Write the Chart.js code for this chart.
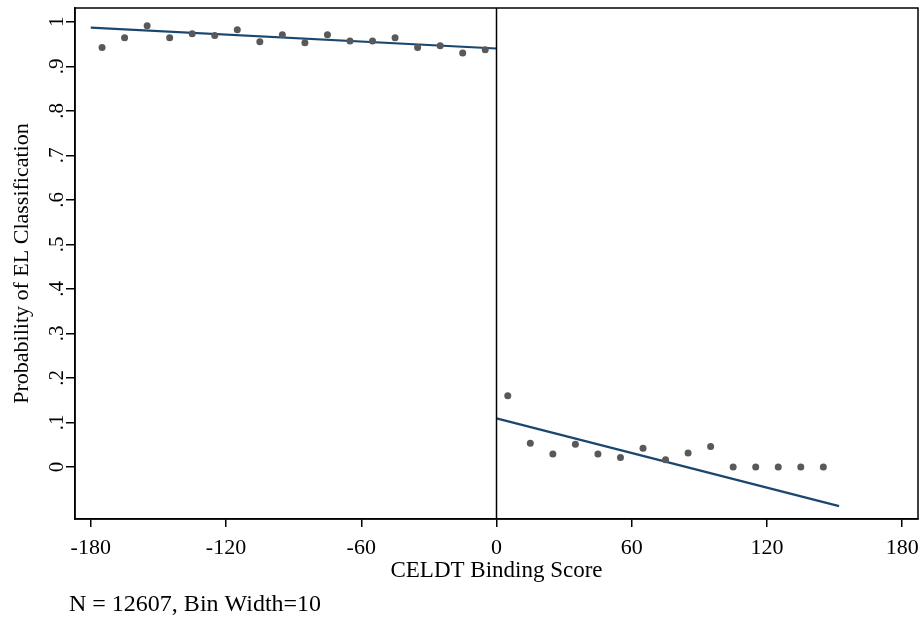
<html>
<head>
<meta charset="utf-8">
<script src="https://cdn.jsdelivr.net/npm/chart.js@4.4.0/dist/chart.umd.min.js"></script>
<style>
  body { margin: 0; background: #fff; }
  #wrap { width: 924px; height: 618px; }
</style>
</head>
<body>
<div id="wrap"><canvas id="rd-chart"></canvas></div>
<script>
// binned means (bin width 10)
var binCenters = [-175, -165, -155, -145, -135, -125, -115, -105, -95, -85, -75, -65, -55, -45, -35, -25, -15, -5,
                  5, 15, 25, 35, 45, 55, 65, 75, 85, 95, 105, 115, 125, 135, 145];
var binMeans = [0.942, 0.964, 0.991, 0.964, 0.973, 0.969, 0.982, 0.955, 0.971, 0.953, 0.971, 0.957, 0.957, 0.964, 0.942, 0.946, 0.930, 0.937,
                0.160, 0.053, 0.029, 0.051, 0.029, 0.021, 0.042, 0.016, 0.031, 0.046, 0, 0, 0, 0, 0];

// linear fits either side of the cutoff
var fitLeftX = [-180, 0];
var fitLeftY = [0.987, 0.940];
var fitRightX = [0, 152];
var fitRightY = [0.109, -0.088];

var xTicks = [-180, -120, -60, 0, 60, 120, 180];
var yTicks = [0, 0.1, 0.2, 0.3, 0.4, 0.5, 0.6, 0.7, 0.8, 0.9, 1];
var yLabels = ['0', '.1', '.2', '.3', '.4', '.5', '.6', '.7', '.8', '.9', '1'];

var xMin = -187, xMax = 187, yMin = -0.117, yMax = 1.031;
var serif = "'Liberation Serif', 'Times New Roman', serif";

function toXY(xs, ys) {
  return xs.map(function(x, i) { return { x: x, y: ys[i] }; });
}

var framePlugin = {
  id: 'frame',
  afterDraw: function(chart) {
    var ctx = chart.ctx, a = chart.chartArea, ys = chart.scales.y;
    ctx.save();
    ctx.strokeStyle = '#000';
    ctx.lineWidth = 1.5;
    ctx.strokeRect(a.left, a.top, a.right - a.left, a.bottom - a.top);
    // rotated y tick labels
    ctx.fillStyle = '#000';
    ctx.font = '21px ' + serif;
    ctx.textAlign = 'center';
    ctx.textBaseline = 'alphabetic';
    yTicks.forEach(function(v, i) {
      ctx.save();
      ctx.translate(63, ys.getPixelForValue(v));
      ctx.rotate(-Math.PI / 2);
      ctx.fillText(yLabels[i], 0, 0);
      ctx.restore();
    });
    // footnote
    ctx.font = '24px ' + serif;
    ctx.textAlign = 'left';
    ctx.fillText('N = 12607, Bin Width=10', 69, 611);
    ctx.restore();
  }
};

var ctx = document.getElementById('rd-chart').getContext('2d');
var chart = new Chart(ctx, {
  type: 'scatter',
  data: {
    datasets: [{
      label: 'cutoff',
      data: [{ x: 0, y: yMin }, { x: 0, y: yMax }],
      showLine: true,
      borderColor: '#000',
      borderWidth: 1.5,
      pointRadius: 0
    }, {
      label: 'bins',
      data: toXY(binCenters, binMeans),
      backgroundColor: '#595959',
      borderWidth: 0,
      pointRadius: 3.5
    }, {
      label: 'fit left',
      data: toXY(fitLeftX, fitLeftY),
      showLine: true,
      borderColor: '#1a476f',
      borderWidth: 2.2,
      pointRadius: 0
    }, {
      label: 'fit right',
      data: toXY(fitRightX, fitRightY),
      showLine: true,
      borderColor: '#1a476f',
      borderWidth: 2.2,
      pointRadius: 0
    }]
  },
  options: {
    responsive: true,
    maintainAspectRatio: false,
    animation: false,
    layout: { padding: { top: 8, right: 6, left: 0, bottom: 0 } },
    plugins: {
      legend: { display: false },
      tooltip: { enabled: false }
    },
    scales: {
      x: {
        type: 'linear',
        min: xMin,
        max: xMax,
        afterBuildTicks: function(s) { s.ticks = xTicks.map(function(v) { return { value: v }; }); },
        afterFit: function(s) { s.height = 99; s.paddingLeft = 0; s.paddingRight = 0; },
        grid: { drawOnChartArea: false, drawTicks: true, tickLength: 8, color: '#000', lineWidth: 1.5 },
        border: { display: true, color: '#000', width: 1.5 },
        ticks: {
          color: '#000',
          font: { family: serif, size: 22 },
          padding: 8,
          maxRotation: 0,
          callback: function(v) { return String(v); }
        },
        title: {
          display: true,
          text: 'CELDT Binding Score',
          color: '#000',
          font: { family: serif, size: 23 },
          padding: { top: 0, bottom: 33 }
        }
      },
      y: {
        type: 'linear',
        min: yMin,
        max: yMax,
        afterBuildTicks: function(s) { s.ticks = yTicks.map(function(v) { return { value: v }; }); },
        afterFit: function(s) { s.width = 75; s.paddingTop = 0; s.paddingBottom = 0; },
        grid: { drawOnChartArea: false, drawTicks: true, tickLength: 9, color: '#000', lineWidth: 1.5 },
        border: { display: true, color: '#000', width: 1.5 },
        ticks: { display: false },
        title: {
          display: true,
          text: 'Probability of EL Classification',
          color: '#000',
          font: { family: serif, size: 22 },
          padding: { top: 9, bottom: 4 }
        }
      }
    }
  },
  plugins: [framePlugin]
});
</script>
</body>
</html>
